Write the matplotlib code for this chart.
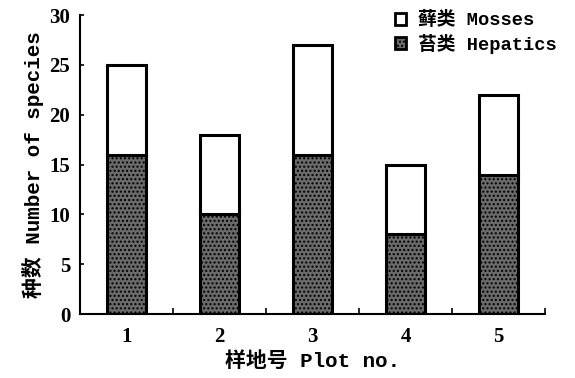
import matplotlib
matplotlib.use("Agg")
import matplotlib.pyplot as plt
from matplotlib.patches import Patch

plots = [1, 2, 3, 4, 5]
hepatics = [16, 10, 16, 8, 14]
mosses = [9, 8, 11, 7, 8]
yticks = [0, 5, 10, 15, 20, 25, 30]

MIXED = ["Liberation Mono", "Noto Sans CJK SC"]
NUM = "Liberation Serif"

plt.rcParams["hatch.color"] = "#333333"
plt.rcParams["hatch.linewidth"] = 1.0

fig = plt.figure(figsize=(5.75, 3.78), dpi=100)
ax = fig.add_axes([0.139, 0.169, 0.809, 0.791])

ax.bar(plots, hepatics, width=0.42, color="#6a6a6a", edgecolor="black",
       linewidth=2.2, hatch="....", zorder=2)
ax.bar(plots, mosses, bottom=hepatics, width=0.42, color="white",
       edgecolor="black", linewidth=2.2, zorder=2)

ax.set_xlim(0.5, 5.5)
ax.set_ylim(0, 30)
ax.set_yticks(yticks)
ax.set_xticks(plots)
ax.set_xticks([1.5, 2.5, 3.5, 4.5, 5.5], minor=True)
ax.tick_params(axis="x", which="major", length=0, pad=9)
ax.tick_params(axis="x", which="minor", direction="in", length=4, width=1.2)
ax.tick_params(axis="y", direction="in", length=3, width=1.2, pad=7)
for lab in ax.get_xticklabels() + ax.get_yticklabels():
    lab.set_fontfamily(NUM)
    lab.set_fontsize(15)
    lab.set_fontweight("bold")

for s in ["top", "right"]:
    ax.spines[s].set_visible(False)
for s in ["left", "bottom"]:
    ax.spines[s].set_linewidth(1.5)

ax.set_ylabel("种数 Number of species", family=MIXED, fontsize=15,
              fontweight="bold", labelpad=4)
ax.set_xlabel("样地号 Plot no.", family=MIXED, fontsize=15,
              fontweight="bold", labelpad=3)

handles = [Patch(facecolor="white", edgecolor="black", linewidth=2, label="藓类 Mosses"),
           Patch(facecolor="#6a6a6a", edgecolor="black", linewidth=2, hatch="....",
                 label="苔类 Hepatics")]
fig.legend(handles=handles, loc="upper left", bbox_to_anchor=(0.658, 1.015),
           frameon=False, prop={"family": MIXED, "size": 13.5, "weight": "bold"},
           handlelength=0.6, handleheight=0.6, handletextpad=0.6, labelspacing=0.25)

fig.savefig("out.png", dpi=100)
